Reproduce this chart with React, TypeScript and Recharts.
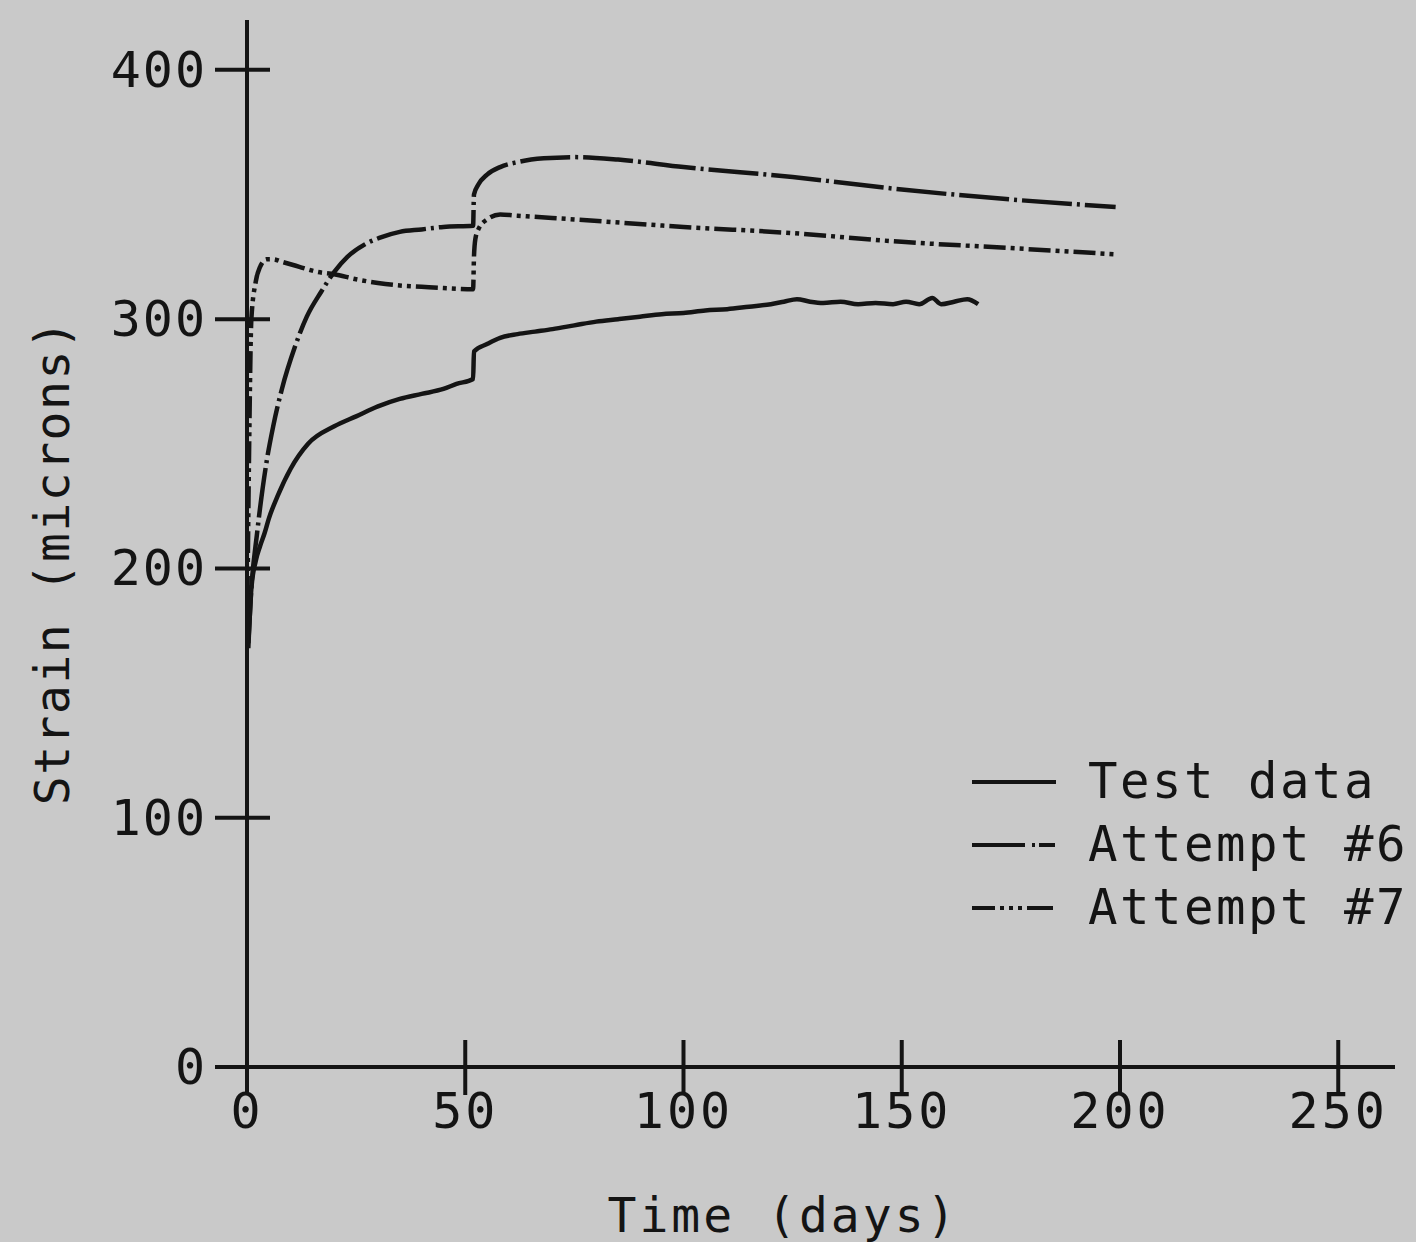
import { LineChart, Line, XAxis, YAxis, Legend } from "recharts";

const INK = "#141414";
const BG = "#c9c9c9";
const FONT = "'DejaVu Sans Mono', 'Liberation Mono', monospace";

// Test data (solid)
const testDays = [
  0.3, 1, 2, 3, 4, 5, 7, 10, 14, 20, 25, 30, 35, 40, 45, 48, 51.8, 52, 55, 58,
  62, 66, 70, 75, 80, 85, 90, 95, 100, 105, 110, 115, 120, 123, 126, 129, 132,
  136, 140, 144, 148, 151, 154, 157, 159, 162, 165, 167.5,
];
const testStrain = [
  168, 192, 203, 209, 214, 220, 229, 240, 250, 257, 261, 265, 268, 270, 272,
  274, 276, 287, 290, 292.5, 294, 295, 296, 297.5, 299, 300, 301, 302, 302.5,
  303.5, 304, 305, 306, 307, 308, 307, 306.5, 307, 306, 306.5, 306, 307, 306,
  308.5, 306, 307, 308, 306,
];

// Attempt #6 (long dash, dot)
const attempt6Days = [
  0.3, 1, 2.3, 4.6, 6, 8, 11, 13.7, 17, 20, 23, 27, 31, 35, 40, 45, 51.8, 52,
  53, 55, 58, 62, 68, 75, 85, 100, 125, 150, 175, 199,
];
const attempt6Strain = [
  170, 192, 214, 244, 257, 272, 289, 301, 311, 319, 325, 330, 333, 335, 336,
  337, 337.5, 350, 354, 358, 361, 363, 364.5, 365, 364, 361, 357, 352, 348,
  345,
];

// Attempt #7 (dash, dot, dot)
const attempt7Days = [
  0, 0.5, 1, 2, 3, 4.5, 6, 8, 12, 16, 20, 25, 30, 35, 40, 45, 51.8, 52, 52.3,
  53, 55, 58, 62, 75, 100, 125, 150, 175, 199,
];
const attempt7Strain = [
  170, 250, 300, 315, 321, 324, 324, 323, 321, 319, 318, 316, 314.5, 313.5,
  313, 312.5, 312, 325, 332, 336, 340, 342, 341.5, 340, 337, 334.5, 331,
  328.5, 326,
];

const xTicks = [0, 50, 100, 150, 200, 250];
const yTicks = [0, 100, 200, 300, 400];

const toPoints = (days: number[], strain: number[]) =>
  days.map((t, i) => ({ t, v: strain[i] }));

const series = [
  { name: "Test data", data: toPoints(testDays, testStrain), dash: undefined, legendDash: undefined },
  { name: "Attempt #6", data: toPoints(attempt6Days, attempt6Strain), dash: "50 5 3 5", legendDash: "53 7 3 4 16" },
  { name: "Attempt #7", data: toPoints(attempt7Days, attempt7Strain), dash: "22 5 4 5 4 5", legendDash: "23 5 4 5 4 5 4 5 26" },
];

function YTick(props: any) {
  const { x, y, payload } = props;
  return (
    <g>
      <line x1={x - 32} x2={x + 23} y1={y} y2={y} stroke={INK} strokeWidth={4} />
      <text x={x - 40} y={y} textAnchor="end" dominantBaseline="central" fill={INK}
        fontFamily={FONT} fontSize={50} letterSpacing={2}>
        {payload.value}
      </text>
    </g>
  );
}

function XTick(props: any) {
  const { x, y, payload } = props;
  return (
    <g>
      <line x1={x} x2={x} y1={y - 27} y2={y + 28} stroke={INK} strokeWidth={4} />
      <text x={x} y={y + 44} textAnchor="middle" dominantBaseline="central" fill={INK}
        fontFamily={FONT} fontSize={50} letterSpacing={3}>
        {payload.value}
      </text>
    </g>
  );
}

function LegendBox() {
  return (
    <div style={{ fontFamily: FONT, fontSize: 49, color: INK, letterSpacing: 2.5, whiteSpace: "nowrap" }}>
      {series.map((s) => (
        <div key={s.name} style={{ display: "flex", alignItems: "center", height: 63 }}>
          <svg width={116} height={20} style={{ flex: "none" }}>
            <line x1={0} x2={84} y1={10} y2={10} stroke={INK} strokeWidth={4}
              strokeDasharray={s.legendDash} />
          </svg>
          <span style={{ lineHeight: "63px" }}>{s.name}</span>
        </div>
      ))}
    </div>
  );
}

export default function App() {
  return (
    <div style={{ position: "absolute", left: 0, top: 0, width: 1416, height: 1242, background: BG, overflow: "hidden" }}>
      <style>{`body{margin:0}`}</style>
      <LineChart width={1416} height={1242} margin={{ top: 20, right: 21, bottom: 115, left: 147 }}>
        <XAxis
          type="number"
          dataKey="t"
          domain={[0, 263]}
          ticks={xTicks}
          allowDataOverflow
          height={60}
          tickSize={0}
          tickMargin={0}
          tickLine={false}
          tick={(p: any) => <XTick {...p} />}
          axisLine={{ stroke: INK, strokeWidth: 4 }}
          label={{
            content: (p: any) => (
              <text x={p.viewBox.x + 536} y={1215} textAnchor="middle" dominantBaseline="central"
                fill={INK} fontFamily={FONT} fontSize={48} letterSpacing={3}>
                Time (days)
              </text>
            ),
          }}
        />
        <YAxis
          type="number"
          dataKey="v"
          domain={[0, 420]}
          ticks={yTicks}
          allowDataOverflow
          width={100}
          tickSize={0}
          tickMargin={0}
          tickLine={false}
          tick={(p: any) => <YTick {...p} />}
          axisLine={{ stroke: INK, strokeWidth: 4 }}
          label={{
            content: () => (
              <text x={52} y={562} textAnchor="middle" dominantBaseline="central"
                transform="rotate(-90 52 562)" fill={INK} fontFamily={FONT} fontSize={48}
                letterSpacing={1.5}>
                Strain (microns)
              </text>
            ),
          }}
        />
        {series.map((s) => (
          <Line
            key={s.name}
            data={s.data}
            dataKey="v"
            name={s.name}
            type="monotone"
            stroke={INK}
            strokeWidth={4.5}
            strokeDasharray={s.dash}
            dot={false}
            isAnimationActive={false}
          />
        ))}
        <Legend
          layout="vertical"
          align="center"
          verticalAlign="middle"
          wrapperStyle={{ position: "absolute", left: 972, top: 750, width: 444 }}
          content={() => <LegendBox />}
        />
      </LineChart>
    </div>
  );
}
